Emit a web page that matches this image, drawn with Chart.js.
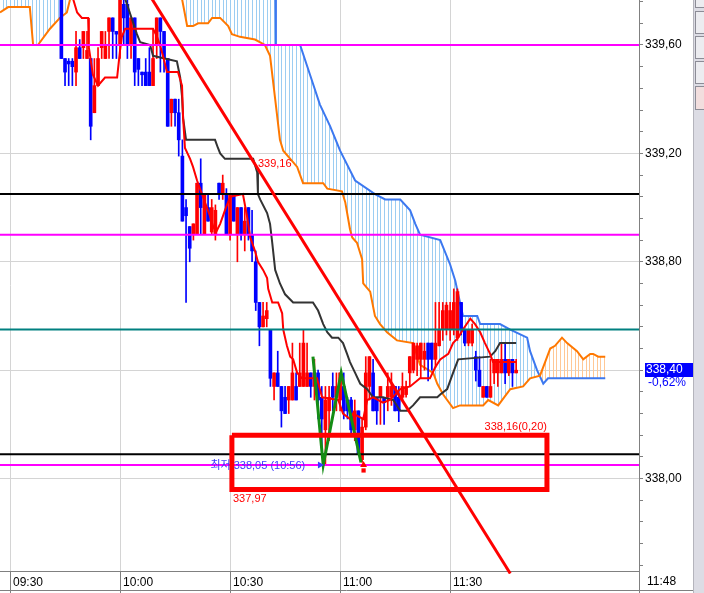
<!DOCTYPE html>
<html lang="ko">
<head>
<meta charset="utf-8">
<title>1분봉 차트</title>
<script src="https://cdn.jsdelivr.net/npm/chart.js@4.4.1/dist/chart.umd.min.js"></script>
<style>
  html, body { margin: 0; padding: 0; background: #fff; }
  #contenedor { position: relative; width: 704px; height: 593px; overflow: hidden; }
  #barra { position: absolute; left: 693px; top: 0; width: 11px; height: 593px; background: #dcdce4; border-left: 1px solid #b4b4bc; box-sizing: border-box; }
  .boton { position: absolute; left: 1px; width: 10px; background: #ececf0; border: 1px solid #8c8c96; box-sizing: border-box; }
</style>
</head>
<body>
<div id="contenedor">
  <canvas id="grafico" width="704" height="593"></canvas>
  <div id="barra">
    <div class="boton" style="top:-3px;height:11px"></div>
    <div class="boton" style="top:11px;height:23px"></div>
    <div class="boton" style="top:36px;height:23px"></div>
    <div class="boton" style="top:61px;height:23px"></div>
    <div class="boton" style="top:86px;height:24px;background:#f2dede"></div>
  </div>
</div>
<script>
// Velas de 1 minuto, la primera visible es 09:44 (minuto 14 desde 09:30)
const minutoInicio = 14;
const aperturas = [
  339.80, 339.55, 339.54, 339.54, 339.50, 339.59, 339.59, 339.55, 339.55, 339.35,
  339.45, 339.59, 339.55, 339.65, 339.70, 339.65, 339.60, 339.75, 339.75, 339.60,
  339.70, 339.55, 339.50, 339.50, 339.50, 339.45, 339.60, 339.70, 339.65, 339.55,
  339.35, 339.40, 339.35, 339.19, 339.00, 338.93, 338.90, 338.90, 339.09, 338.90,
  339.00, 338.91, 338.90, 339.09, 339.05, 339.05, 338.90, 339.05, 338.90, 339.00,
  338.90, 339.00, 338.90, 338.80, 338.65, 338.56, 338.59, 338.55, 338.34, 338.39,
  338.34, 338.30, 338.29, 338.29, 338.34, 338.34, 338.34, 338.34, 338.39, 338.34,
  338.39, 338.30, 338.18, 338.25, 338.34, 338.30, 338.29, 338.34, 338.29, 338.29,
  338.18, 338.25, 338.07, 338.19, 338.34, 338.39, 338.30, 338.30, 338.30, 338.30,
  338.30, 338.34, 338.30, 338.30, 338.31, 338.39, 338.40, 338.44, 338.44, 338.44,
  338.50, 338.50, 338.44, 338.49, 338.55, 338.55, 338.55, 338.55, 338.52, 338.65,
  338.55, 338.50, 338.50, 338.45, 338.40, 338.30, 338.34, 338.30, 338.39, 338.39,
  338.39, 338.44, 338.39, 338.44, 338.39
];
const maximos = [
  339.82, 339.55, 339.55, 339.55, 339.65, 339.62, 339.65, 339.65, 339.55, 339.55,
  339.59, 339.65, 339.65, 339.70, 339.70, 339.65, 339.80, 339.77, 339.77, 339.70,
  339.70, 339.55, 339.50, 339.55, 339.59, 339.66, 339.70, 339.70, 339.65, 339.55,
  339.40, 339.40, 339.40, 339.25, 339.03, 338.93, 338.94, 339.09, 339.18, 339.05,
  339.05, 339.03, 339.01, 339.09, 339.12, 339.07, 339.05, 339.05, 339.00, 339.00,
  339.00, 339.00, 338.99, 338.84, 338.65, 338.65, 338.65, 338.55, 338.39, 338.47,
  338.34, 338.34, 338.34, 338.50, 338.39, 338.50, 338.55, 338.50, 338.39, 338.44,
  338.40, 338.34, 338.34, 338.34, 338.39, 338.39, 338.39, 338.39, 338.30, 338.30,
  338.29, 338.25, 338.22, 338.45, 338.45, 338.44, 338.30, 338.34, 338.30, 338.39,
  338.39, 338.34, 338.34, 338.39, 338.36, 338.45, 338.50, 338.50, 338.50, 338.50,
  338.50, 338.50, 338.65, 338.65, 338.65, 338.65, 338.65, 338.70, 338.70, 338.65,
  338.55, 338.55, 338.57, 338.47, 338.45, 338.34, 338.34, 338.44, 338.44, 338.44,
  338.50, 338.50, 338.44, 338.44, 338.44
];
const minimos = [
  339.55, 339.45, 339.45, 339.45, 339.45, 339.55, 339.55, 339.55, 339.25, 339.35,
  339.45, 339.55, 339.55, 339.55, 339.55, 339.55, 339.55, 339.60, 339.55, 339.55,
  339.45, 339.45, 339.45, 339.45, 339.45, 339.45, 339.55, 339.50, 339.50, 339.30,
  339.30, 339.30, 339.19, 338.95, 338.65, 338.80, 338.88, 338.90, 338.90, 338.90,
  338.95, 338.90, 338.88, 339.03, 339.03, 338.90, 338.88, 338.95, 338.80, 338.88,
  338.84, 338.88, 338.80, 338.62, 338.49, 338.56, 338.56, 338.34, 338.29, 338.34,
  338.19, 338.24, 338.24, 338.29, 338.29, 338.34, 338.34, 338.34, 338.30, 338.29,
  338.22, 338.09, 338.05, 338.14, 338.25, 338.25, 338.25, 338.22, 338.22, 338.16,
  338.14, 338.09, 338.06, 338.18, 338.29, 338.25, 338.20, 338.20, 338.20, 338.25,
  338.27, 338.25, 338.21, 338.29, 338.30, 338.34, 338.39, 338.38, 338.37, 338.40,
  338.36, 338.40, 338.41, 338.49, 338.51, 338.53, 338.51, 338.53, 338.51, 338.53,
  338.49, 338.49, 338.49, 338.36, 338.34, 338.30, 338.30, 338.30, 338.35, 338.34,
  338.39, 338.35, 338.38, 338.34, 338.39
];
const cierres = [
  339.55, 339.50, 339.53, 339.52, 339.59, 339.55, 339.65, 339.58, 339.30, 339.45,
  339.55, 339.65, 339.60, 339.70, 339.65, 339.64, 339.77, 339.70, 339.60, 339.70,
  339.50, 339.51, 339.49, 339.45, 339.45, 339.55, 339.70, 339.65, 339.55, 339.30,
  339.40, 339.35, 339.25, 338.95, 338.97, 338.85, 338.94, 339.09, 339.00, 339.05,
  338.95, 339.00, 338.99, 339.05, 339.09, 338.90, 339.05, 338.95, 339.00, 338.90,
  338.95, 338.90, 338.84, 338.65, 338.56, 338.60, 338.62, 338.37, 338.39, 338.34,
  338.25, 338.24, 338.34, 338.39, 338.29, 338.39, 338.50, 338.39, 338.34, 338.39,
  338.29, 338.22, 338.29, 338.30, 338.30, 338.34, 338.39, 338.25, 338.25, 338.18,
  338.25, 338.09, 338.19, 338.39, 338.45, 338.25, 338.25, 338.34, 338.28, 338.34,
  338.34, 338.25, 338.25, 338.34, 338.34, 338.45, 338.50, 338.49, 338.50, 338.47,
  338.44, 338.44, 338.50, 338.55, 338.62, 338.64, 338.62, 338.65, 338.69, 338.55,
  338.50, 338.55, 338.55, 338.40, 338.34, 338.34, 338.30, 338.34, 338.44, 338.44,
  338.44, 338.39, 338.44, 338.39, 338.40
];

// Líneas de Ichimoku: [minuto, precio]
const tenkan = [
  [16.5, 339.85], [17.2, 339.77], [18.3, 339.72], [19.6, 339.70], [21.3, 339.70], [21.5, 339.59],
  [22.6, 339.49], [24.0, 339.45], [25.9, 339.48], [29.2, 339.48], [30.0, 339.58], [30.5, 339.63],
  [31.4, 339.66], [39.0, 339.66], [40.1, 339.63], [40.9, 339.60], [41.7, 339.56], [42.8, 339.50],
  [45.8, 339.50], [46.9, 339.45], [47.2, 339.33], [47.7, 339.22], [49.1, 339.18], [49.9, 339.15],
  [51.0, 339.10], [51.8, 339.07], [52.6, 339.04], [54.5, 338.97], [55.4, 338.93], [56.2, 338.91],
  [57.3, 338.94], [58.6, 338.99], [60.0, 339.04], [63.5, 339.05], [64.6, 338.97], [65.5, 338.89],
  [66.8, 338.84], [67.6, 338.80], [69.0, 338.77], [70.1, 338.74], [70.4, 338.70], [71.5, 338.65],
  [73.1, 338.65], [74.2, 338.61], [74.5, 338.55], [75.5, 338.49], [76.4, 338.45], [77.2, 338.44],
  [78.3, 338.39], [79.6, 338.37], [83.7, 338.37], [84.5, 338.33], [85.1, 338.30], [89.5, 338.29],
  [90.8, 338.24], [92.7, 338.22], [93.5, 338.24], [96.3, 338.22], [97.4, 338.29], [99.0, 338.30],
  [101.7, 338.28], [103.6, 338.29], [106.4, 338.33], [109.1, 338.34], [111.8, 338.37], [114.5, 338.37],
  [115.9, 338.41], [117.3, 338.44], [119.5, 338.46], [120.8, 338.50], [122.2, 338.52], [123.5, 338.55],
  [125.5, 338.59], [126.8, 338.57], [128.2, 338.54], [129.5, 338.50], [130.9, 338.46], [131.7, 338.43],
  [138, 338.43]
];
const kijun = [
  [31.0, 339.85], [31.4, 339.77], [31.9, 339.75], [34.6, 339.64], [35.5, 339.61], [38.2, 339.60],
  [39.0, 339.56], [45.5, 339.54], [46.4, 339.48], [46.9, 339.41], [47.2, 339.33], [48.0, 339.25],
  [55.9, 339.25], [56.7, 339.22], [57.3, 339.20], [58.6, 339.18], [66.3, 339.18], [67.4, 339.13],
  [67.6, 339.05], [68.2, 339.03], [70.1, 338.98], [70.9, 338.94], [71.5, 338.87], [72.3, 338.77],
  [73.6, 338.72], [75.0, 338.68], [77.2, 338.65], [82.6, 338.65], [84.0, 338.62], [85.4, 338.57],
  [86.5, 338.54], [87.8, 338.52], [89.5, 338.52], [90.8, 338.50], [91.9, 338.46], [92.7, 338.43],
  [94.1, 338.39], [95.5, 338.35], [97.4, 338.33], [99.0, 338.30], [101.7, 338.30], [104.5, 338.29],
  [106.4, 338.25], [108.3, 338.25], [109.9, 338.27], [111.8, 338.30], [116.5, 338.30], [117.3, 338.31],
  [119.2, 338.33], [120.8, 338.39], [122.2, 338.44], [130.9, 338.45], [132.3, 338.47], [133.6, 338.50],
  [138, 338.50]
];
const senkouNaranja = [
  [-2.73, 339.72], [-0.5, 339.74], [5.4, 339.74], [6.3, 339.60], [7.6, 339.60], [10.9, 339.66],
  [13.6, 339.70], [15.5, 339.72], [16.4, 339.77], [17.7, 339.88], [45.8, 339.88], [46.9, 339.77],
  [48.3, 339.67], [49.9, 339.67], [51.3, 339.68], [54.0, 339.68], [55.1, 339.70], [57.3, 339.70],
  [59.5, 339.67], [60.5, 339.64], [62.7, 339.63], [66.8, 339.62], [69.5, 339.60], [70.9, 339.56],
  [72.3, 339.40], [73.6, 339.25], [74.5, 339.21], [78.3, 339.15], [79.9, 339.09], [85.4, 339.09],
  [86.5, 339.07], [90.5, 339.06], [91.4, 339.02], [92.7, 338.92], [93.3, 338.89], [94.6, 338.87],
  [96.0, 338.81], [96.3, 338.72], [98.2, 338.69], [99.5, 338.60], [100.9, 338.57], [102.8, 338.54],
  [105.5, 338.51], [109.9, 338.50], [111.8, 338.42], [115.4, 338.39], [116.5, 338.35], [118.1, 338.31],
  [120.8, 338.26], [122.7, 338.27], [129.0, 338.27], [130.4, 338.29], [133.1, 338.27], [136.4, 338.33],
  [139.9, 338.34], [141.8, 338.37], [144.5, 338.38], [145.9, 338.43], [147.3, 338.48], [148.6, 338.49],
  [150.5, 338.52], [151.9, 338.50], [154.6, 338.47], [156.3, 338.44], [158.2, 338.46], [159.0, 338.46],
  [160.4, 338.45], [162.3, 338.45]
];
const senkouAzul = [
  [-2.73, 339.88], [72.3, 339.88], [72.5, 339.60], [79.1, 339.60], [81.8, 339.49], [84.5, 339.38],
  [87.3, 339.30], [90.0, 339.21], [94.1, 339.10], [99.5, 339.05], [102.3, 339.03], [106.4, 339.03],
  [109.1, 338.99], [110.5, 338.94], [111.8, 338.90], [117.3, 338.88], [120.0, 338.79], [121.4, 338.73],
  [122.7, 338.65], [123.5, 338.60], [127.4, 338.60], [128.2, 338.57], [133.6, 338.57], [136.4, 338.55],
  [141.0, 338.52], [141.8, 338.47], [143.7, 338.40], [145.4, 338.35], [146.7, 338.37], [162.3, 338.37]
];

// Niveles horizontales y dibujos del usuario
const niveles = [339.60, 339.05, 338.90, 338.55, 338.09, 338.05];
const lineaTendencia = [[38.7, 339.77], [136.4, 337.65]];
const zigzagW = [[82.6, 338.45], [85.4, 338.05], [90.3, 338.39], [95.7, 338.06]];
const caja = [[60.5, 338.16], [146.4, 338.16], [146.4, 337.96], [60.5, 337.96], [60.5, 338.16]];
const marcaMinimo = [[84.5, 338.05]];
const marcaCompra = [[96.4, 338.05]];
const marcaCompraBase = [[96.4, 338.03]];

const horasEje = ["09:30", "10:00", "10:30", "11:00", "11:30"];
const ultimoPrecio = 338.40;
const variacion = "-0,62%";
const horaActual = "11:48";

const etiquetas = [
  { x: 67.6, y: 339.16, texto: "339,16", color: "#ff0000", align: "left", base: "middle", dy: 0 },
  { x: 146.4, y: 338.16, texto: "338,16(0,20)", color: "#ff0000", align: "right", base: "bottom", dy: -3 },
  { x: 60.8, y: 337.96, texto: "337,97", color: "#ff0000", align: "left", base: "top", dy: 4 },
  { x: 80.5, y: 338.05, texto: "최저 338,05 (10:56)", color: "#3a3aff", align: "right", base: "middle", dy: 1 }
];

const ROJO = "#ff0000";
const AZUL = "#0000ff";
const coloresNiveles = ["#ff00ff", "#000000", "#ff00ff", "#008080", "#000000", "#ff00ff"];
const FUENTE = "'Liberation Sans', 'Noto Sans CJK KR', sans-serif";

function aPuntos(pares) {
  return pares.map(function (p) {
    return { x: p[0], y: p[1] };
  });
}

// Rayado vertical para la nube (una línea por minuto aprox.)
function crearRayado(color) {
  const c = document.createElement("canvas");
  c.width = 11;
  c.height = 4;
  const g = c.getContext("2d");
  g.fillStyle = color;
  [3, 6, 10].forEach(function (px) {
    g.fillRect(px, 0, 1, 4);
  });
  return g.createPattern(c, "repeat");
}

function esMayor(v) {
  const r = v / 0.4;
  return Math.abs(r - Math.round(r)) < 1e-6;
}

function datosVelas() {
  const cuerpos = [];
  const mechas = [];
  const colores = [];
  for (let k = 0; k < cierres.length; k++) {
    const x = minutoInicio + k;
    cuerpos.push({ x: x, y: [aperturas[k], cierres[k]] });
    mechas.push({ x: x, y: [minimos[k], maximos[k]] });
    colores.push(cierres[k] >= aperturas[k] ? ROJO : AZUL);
  }
  return { cuerpos: cuerpos, mechas: mechas, colores: colores };
}

function linea(pares, color, ancho, orden, extra) {
  return Object.assign({
    type: "line",
    data: aPuntos(pares),
    borderColor: color,
    borderWidth: ancho,
    pointRadius: 0,
    tension: 0,
    fill: false,
    order: orden
  }, extra || {});
}

// Quito los rellenos automáticos que Chart.js agrega a los ejes
function sinRelleno(s) {
  s.paddingTop = 0;
  s.paddingBottom = 0;
  s.paddingLeft = 0;
  s.paddingRight = 0;
}

const decoraciones = {
  id: "decoraciones",
  afterDraw(chart) {
    const { ctx, chartArea, scales } = chart;
    const sx = scales.x;
    const sy = scales.y;
    ctx.save();
    ctx.font = "11px " + FUENTE;
    etiquetas.forEach(function (e) {
      ctx.fillStyle = e.color;
      ctx.textAlign = e.align;
      ctx.textBaseline = e.base;
      ctx.fillText(e.texto, sx.getPixelForValue(e.x), sy.getPixelForValue(e.y) + e.dy);
    });

    // Caja con el precio actual en el eje
    const yp = Math.round(sy.getPixelForValue(ultimoPrecio));
    ctx.fillStyle = AZUL;
    ctx.fillRect(chartArea.right + 6, yp - 7, 48, 14);
    ctx.font = "12px " + FUENTE;
    ctx.textAlign = "left";
    ctx.textBaseline = "middle";
    ctx.fillStyle = "#ffffff";
    ctx.fillText(ultimoPrecio.toFixed(2).replace(".", ","), chartArea.right + 7, yp);
    ctx.fillStyle = AZUL;
    ctx.fillText(variacion, chartArea.right + 9, yp + 13);

    // Celda de la hora actual y línea inferior
    ctx.strokeStyle = "#808080";
    ctx.lineWidth = 1;
    ctx.beginPath();
    ctx.moveTo(chartArea.right + 0.5, chartArea.bottom);
    ctx.lineTo(chartArea.right + 0.5, chart.height);
    ctx.moveTo(0, chart.height - 2.5);
    ctx.lineTo(chartArea.right + 54, chart.height - 2.5);
    ctx.stroke();
    ctx.fillStyle = "#000000";
    ctx.fillText(horaActual, chartArea.right + 8, chartArea.bottom + 11);
    ctx.restore();
  }
};

function dibujarGrafico() {
  const ctx = document.getElementById("grafico").getContext("2d");
  const velas = datosVelas();
  const xMin = -2.73;
  const xMax = 171.5;

  const datasets = [
    linea(senkouAzul, "#3c78f0", 2, 20, {
      fill: { target: 1, above: crearRayado("#9ccdf2"), below: crearRayado("#ffc896") }
    }),
    linea(senkouNaranja, "#ff7800", 2, 19),
    {
      type: "bar",
      data: velas.mechas,
      backgroundColor: velas.colores,
      barThickness: 1,
      grouped: false,
      order: 16
    },
    {
      type: "bar",
      data: velas.cuerpos,
      backgroundColor: velas.colores,
      barThickness: 3,
      minBarLength: 1,
      grouped: false,
      order: 15
    },
    linea(kijun, "#333333", 2, 14),
    linea(tenkan, "#ff0000", 2, 13)
  ];

  niveles.forEach(function (nivel, k) {
    datasets.push(linea([[xMin, nivel], [xMax, nivel]], coloresNiveles[k], 2, 10));
  });

  datasets.push(linea(lineaTendencia, "#ff0000", 3, 6, { clip: { left: 0, top: 0, right: 0, bottom: 3 } }));
  datasets.push(linea(zigzagW, "#148c14", 3, 5));
  datasets.push(linea(caja, "#ff0000", 5, 4, { borderJoinStyle: "miter" }));
  datasets.push({
    type: "scatter",
    data: aPuntos(marcaMinimo),
    pointStyle: "triangle",
    rotation: 90,
    pointRadius: 4,
    backgroundColor: "#3a3aff",
    borderWidth: 0,
    order: 3
  });
  datasets.push({
    type: "scatter",
    data: aPuntos(marcaCompraBase),
    pointStyle: "rect",
    pointRadius: 3,
    backgroundColor: ROJO,
    borderWidth: 0,
    order: 2
  });
  datasets.push({
    type: "scatter",
    data: aPuntos(marcaCompra),
    pointStyle: "triangle",
    pointRadius: 4,
    backgroundColor: ROJO,
    borderWidth: 0,
    order: 1
  });

  new Chart(ctx, {
    type: "line",
    data: { datasets: datasets },
    options: {
      responsive: false,
      animation: false,
      layout: { autoPadding: false, padding: { left: 0, top: 0, right: 11, bottom: 0 } },
      plugins: {
        legend: { display: false },
        tooltip: { enabled: false }
      },
      scales: {
        x: {
          type: "linear",
          min: xMin,
          max: xMax,
          offset: false,
          afterBuildTicks: function (s) {
            s.ticks = s.ticks.filter(function (t) { return t.value <= 120; });
          },
          afterFit: function (s) {
            s.height = 22;
            sinRelleno(s);
          },
          ticks: {
            stepSize: 30,
            autoSkip: false,
            includeBounds: false,
            maxRotation: 0,
            align: "start",
            labelOffset: 3,
            padding: -18,
            color: "#000000",
            font: { size: 12, family: FUENTE },
            callback: function (v) { return horasEje[Math.round(v / 30)]; }
          },
          grid: { color: "#d4d4d4", tickColor: "#808080", tickLength: 22, offset: false },
          border: { color: "#808080" }
        },
        y: {
          position: "right",
          min: 337.659,
          max: 339.766,
          afterFit: function (s) {
            s.width = 54;
            sinRelleno(s);
          },
          ticks: {
            stepSize: 0.08,
            autoSkip: false,
            includeBounds: false,
            padding: 2,
            color: "#000000",
            font: { size: 12, family: FUENTE },
            callback: function (v) { return esMayor(v) ? v.toFixed(2).replace(".", ",") : ""; }
          },
          grid: {
            color: function (c) { return c.tick && esMayor(c.tick.value) ? "#d4d4d4" : "rgba(0,0,0,0)"; },
            tickColor: "#808080",
            tickLength: 4
          },
          border: { color: "#808080" }
        }
      }
    },
    plugins: [decoraciones]
  });
}

dibujarGrafico();
</script>
</body>
</html>
